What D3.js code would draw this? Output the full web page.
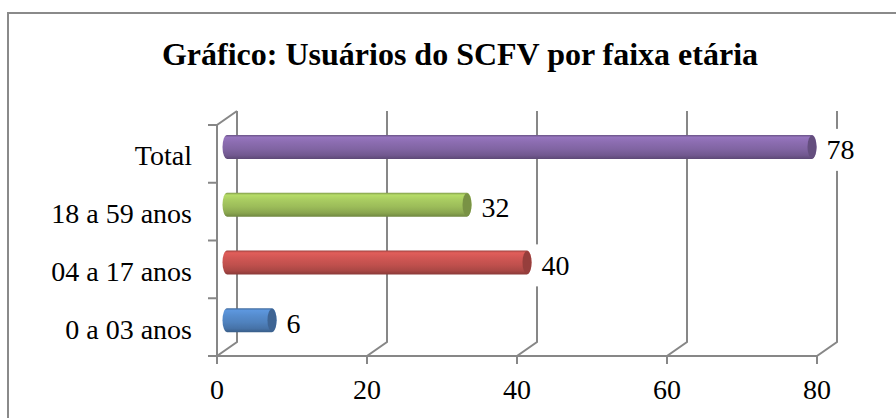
<!DOCTYPE html>
<meta charset="utf-8">
<title>Usuários do SCFV por faixa etária</title>
<style>
  body { margin: 0; background: #fff; }
</style>
<body>
<script src="https://cdn.jsdelivr.net/npm/d3@7"></script>
<script>

// chart data
const categories = ["Total", "18 a 59 anos", "04 a 17 anos", "0 a 03 anos"];
const values = [78, 32, 40, 6];
const colors = ["#8064A2", "#9BBB59", "#C0504D", "#4F81BD"];
const tickValues = [0, 20, 40, 60, 80];
const title = "Gráfico: Usuários do SCFV por faixa etária";

const width = 896, height = 418;
const depth = { dx: 20, dy: -14 };   // front -> back wall offset
const axisColor = "#878787";
const serif = "'Liberation Serif', 'DejaVu Serif', 'Noto Serif', 'Times New Roman', Times, serif";
const fs = 28;

const svg = d3.select("body").append("svg")
    .attr("width", width)
    .attr("height", height)
    .attr("font-family", serif);

// outer frame (cut off on the right and bottom like the screenshot)
svg.append("rect")
    .attr("x", 8).attr("y", 13)
    .attr("width", 920).attr("height", 440)
    .attr("fill", "none")
    .attr("stroke", "#8a8a8a")
    .attr("stroke-width", 2);

svg.append("text")
    .attr("x", 460).attr("y", 65)
    .attr("text-anchor", "middle")
    .attr("font-size", 32)
    .attr("font-weight", "bold")
    .text(title);

// front plane scales
const x = d3.scaleLinear().domain([0, 80]).range([217, 817]);
const y = d3.scaleBand().domain(categories).range([125, 356]);

const grid = svg.append("g")
    .attr("stroke", axisColor)
    .attr("stroke-width", 2)
    .attr("fill", "none");

const floorY = y.range()[1];
const topY = y.range()[0];

// back wall gridlines + floor diagonals + tick marks
tickValues.forEach(t => {
  const fx = x(t);
  grid.append("path")
      .attr("d", `M${fx},${floorY + 8} L${fx},${floorY} L${fx + depth.dx},${floorY + depth.dy} L${fx + depth.dx},${topY + depth.dy}`);
});

// front left axis with the top diagonal
grid.append("path")
    .attr("d", `M${x(0)},${floorY} L${x(0)},${topY} L${x(0) + depth.dx},${topY + depth.dy}`);

// front floor axis
grid.append("line")
    .attr("x1", x(0) - 8).attr("x2", x(80))
    .attr("y1", floorY).attr("y2", floorY);

// category ticks
const bounds = categories.map(c => y(c)).concat([floorY]);
bounds.forEach(b => {
  grid.append("line")
      .attr("x1", x(0) - 9).attr("x2", x(0))
      .attr("y1", b).attr("y2", b);
});

// x tick labels
svg.append("g").selectAll("text")
  .data(tickValues)
  .join("text")
    .attr("x", d => x(d))
    .attr("y", 399)
    .attr("text-anchor", "middle")
    .attr("font-size", fs)
    .text(d => d);

// category labels
svg.append("g").selectAll("text")
  .data(categories)
  .join("text")
    .attr("x", 192)
    .attr("y", d => y(d) + y.bandwidth() / 2 + 11.5)
    .attr("text-anchor", "end")
    .attr("font-size", fs)
    .text(d => d);

// gradients for the cylinders
const defs = svg.append("defs");
colors.forEach((c, i) => {
  const base = d3.color(c);
  const g = defs.append("linearGradient")
      .attr("id", "cyl" + i)
      .attr("x1", 0).attr("y1", 0).attr("x2", 0).attr("y2", 1);
  const stops = [
    [0, base.darker(0.6)],
    [0.1, base.brighter(0.45)],
    [0.3, base.brighter(0.25)],
    [0.6, base],
    [0.85, base.darker(0.35)],
    [1, base.darker(0.9)]
  ];
  stops.forEach(s => g.append("stop").attr("offset", s[0]).attr("stop-color", s[1]));
});

// cylinders sit half way into the depth
const mid = { dx: depth.dx / 2, dy: depth.dy / 2 };
const barH = 24, rx = 4.5, ry = barH / 2;

const bars = svg.append("g").selectAll("g")
  .data(categories.map((c, i) => ({ cat: c, value: values[i], i })))
  .join("g");

bars.each(function(d) {
  const g = d3.select(this);
  const cy = y(d.cat) + y.bandwidth() / 2 + mid.dy;
  const x0 = x(0) + mid.dx, x1 = x(d.value) + mid.dx;
  const y0 = cy - ry, y1 = cy + ry;

  g.append("path")
      .attr("d", `M${x0},${y0} L${x1},${y0} A${rx},${ry} 0 0 1 ${x1},${y1} L${x0},${y1} A${rx},${ry} 0 0 1 ${x0},${y0} Z`)
      .attr("fill", `url(#cyl${d.i})`);

  g.append("ellipse")
      .attr("cx", x1).attr("cy", cy)
      .attr("rx", rx).attr("ry", ry - 0.5)
      .attr("fill", d3.color(colors[d.i]).darker(0.7));

  // value label with white box that hides the gridline
  const lx = x1 + rx + 10;
  const label = g.append("text")
      .attr("x", lx)
      .attr("y", cy + 12.5)
      .attr("font-size", fs)
      .text(d.value);
  const bb = label.node().getBBox();
  g.insert("rect", "text")
      .attr("x", bb.x - 7).attr("y", cy - 18)
      .attr("width", bb.width + 14).attr("height", 42)
      .attr("fill", "#fff");
});

</script>
</body>
